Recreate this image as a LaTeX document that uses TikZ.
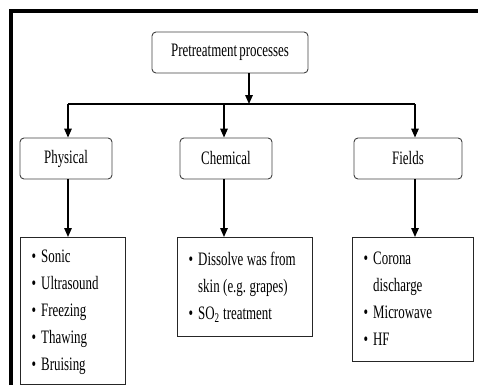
\documentclass[tikz,border=0pt]{standalone}
\usepackage{fontspec}
\setmainfont{Liberation Serif}[FakeStretch=0.68,WordSpace=0.7]
\usepackage{tikz}
\usetikzlibrary{positioning, arrows.meta, shapes}
\tikzstyle{process} = [rectangle, rounded corners=4pt, minimum height=41pt, text centered, draw=black!75, line width=0.9pt, font=\fontsize{19}{27}\selectfont]
\tikzstyle{list} = [rectangle, draw=black!85, line width=1.3pt, anchor=north west, inner xsep=11pt, inner ysep=5pt, align=left, font=\fontsize{19}{27}\selectfont\frenchspacing]
\tikzstyle{arrow} = [line width=1.5pt,-{Triangle[length=9pt,width=7.5pt]}]
\newcommand{\bul}{\textbullet}
\newcommand{\gap}{\hspace{3.5pt}}

\begin{document}
\frenchspacing
\begin{tikzpicture}[x=1pt,y=-1pt]
\useasboundingbox (0,0) rectangle (478,385);
\draw[line width=4pt] (11,385) -- (11,11) -- (478,11);

\node (Pre) [process, minimum width=156pt] at (230,52.5) {Pretreatment processes};
\node (Phys) [process, minimum width=92pt] at (66,158.5) {Physical};
\node (Chem) [process, minimum width=92pt] at (226,158.5) {Chemical};
\node (Fields) [process, minimum width=108pt] at (408,158.5) {Fields};

\node (PhysList) [list, text width=83pt, minimum height=147pt] at (20,237) {\begin{tabular}{@{}l@{\hspace{5pt}}l@{}}
\bul & Sonic\\ \bul & Ultrasound\\ \bul & Freezing\\ \bul & Thawing\\ \bul & Bruising
\end{tabular}};
\node (ChemList) [list, text width=113pt, minimum height=99pt] at (177,237) {\begin{tabular}{@{}l@{\hspace{5pt}}l@{}}
\bul & Dissolve\gap was\gap from\\ & skin\gap(e.g.\gap grapes)\\ \bul & SO\textsubscript{2}\gap treatment
\end{tabular}};
\node (FieldsList) [list, text width=99pt, minimum height=124pt] at (352,237) {\begin{tabular}{@{}l@{\hspace{5pt}}l@{}}
\bul & Corona\\ & discharge\\ \bul & Microwave\\ \bul & HF
\end{tabular}};

\coordinate (Split) at (249,104);
\coordinate (J1) at (68,104);
\coordinate (J2) at (224,104);
\coordinate (J3) at (415,104);

\draw [arrow] (Pre.south -| Split) -- (Split);
\draw [line width=1.5pt] (J1) -- (J3);
\draw [arrow] (J1) -- (Phys.north -| J1);
\draw [arrow] (J2) -- (Chem.north -| J2);
\draw [arrow] (J3) -- (Fields.north -| J3);
\draw [arrow] (Phys.south -| J1) -- (PhysList.north -| J1);
\draw [arrow] (Chem.south -| J2) -- (ChemList.north -| J2);
\draw [arrow] (Fields.south -| J3) -- (FieldsList.north -| J3);
\end{tikzpicture}
\end{document}
